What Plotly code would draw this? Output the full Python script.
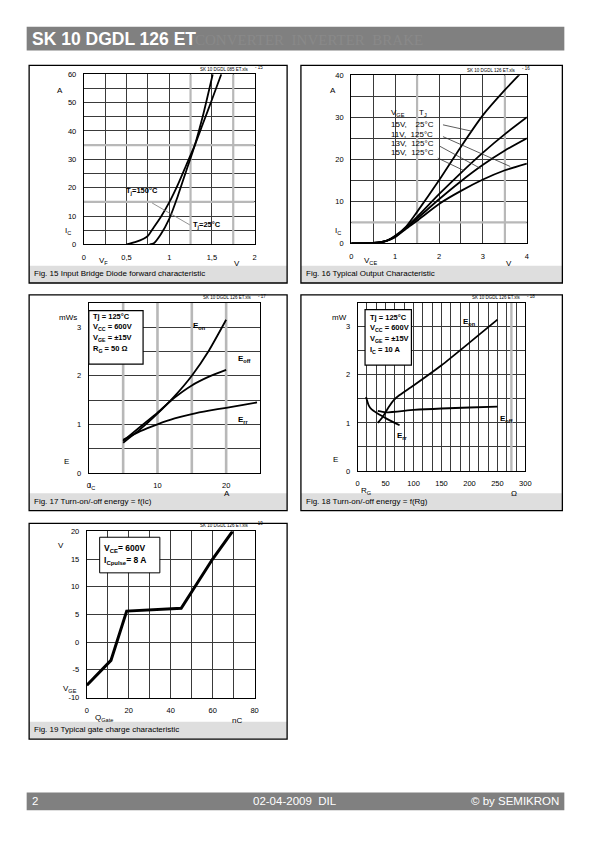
import plotly.graph_objects as go

W, H = 595, 842
FONT = "Liberation Sans, Arial, sans-serif"

# ---------------- data ----------------
# Fig. 15 input bridge diode forward characteristic
f15_vf_150 = [0.5, 0.6, 0.7, 0.75, 0.8, 0.9, 1.0, 1.1, 1.2, 1.3, 1.4, 1.5, 1.61]
f15_if_150 = [0, 0.8, 2.0, 3.0, 5.2, 9.6, 14.8, 21, 28, 35, 43, 51, 60]
f15_vf_25 = [0.77, 0.82, 0.9, 1.0, 1.1, 1.2, 1.3, 1.4, 1.51]
f15_if_25 = [0, 0.4, 3.5, 9, 17, 26, 35, 46, 60]

# Fig. 16 typical output characteristic
f16_vce = [0, 0.5, 0.8, 1.0, 1.25, 1.5, 2.0, 2.5, 3.0, 3.5, 4.0]
f16_15v_25 = [0, 0.1, 0.6, 1.8, 4.0, 7.5, 15.0, 23.0, 30.5, 36.5, 42.0]
f16_15v_125 = [0, 0.1, 0.6, 1.7, 3.8, 6.3, 11.7, 16.8, 21.6, 26.0, 30.0]
f16_13v_125 = [0, 0.1, 0.6, 1.6, 3.7, 5.9, 10.5, 14.8, 18.7, 22.1, 25.0]
f16_11v_125 = [0, 0.1, 0.6, 1.5, 3.5, 5.4, 9.4, 12.5, 15.2, 17.4, 19.0]

# Fig. 17 switching energy vs Ic
f17_ic = [5, 7.5, 10, 12.5, 15, 17.5, 20]
f17_eon = [0.62, 0.9, 1.22, 1.58, 2.0, 2.52, 3.15]
f17_eoff = [0.66, 0.95, 1.24, 1.55, 1.8, 1.98, 2.12]
f17_ic_rr = [5, 7.5, 10, 12.5, 15, 17.5, 20, 22.5, 24.5]
f17_err = [0.68, 0.86, 1.0, 1.12, 1.21, 1.28, 1.34, 1.4, 1.45]

# Fig. 18 switching energy vs Rg
f18_rg_on = [36, 45, 55, 65, 75, 100, 150, 200, 250]
f18_eon = [1.0, 1.13, 1.32, 1.48, 1.58, 1.78, 2.2, 2.67, 3.15]
f18_rg_off = [36, 50, 100, 150, 200, 250]
f18_eoff = [1.25, 1.22, 1.27, 1.3, 1.32, 1.34]
f18_rg_rr = [15, 20, 25, 35, 50, 75]
f18_err = [1.54, 1.36, 1.28, 1.2, 1.1, 0.95]

# Fig. 19 gate charge characteristic
f19_qg = [0, 11.5, 19, 45, 60, 69.5]
f19_vge = [-7.8, -3.3, 5.6, 6.1, 15, 20]


def X(px):
    return px / W


def Y(py):
    return 1 - py / H


fig = go.Figure()

GRID = "#3a3a3a"


def axis(domain_px, anchor, rng, vertical=False, **kw):
    if vertical:
        dom = [Y(domain_px[1]), Y(domain_px[0])]
    else:
        dom = [X(domain_px[0]), X(domain_px[1])]
    d = dict(domain=dom, anchor=anchor, range=rng, showline=True, mirror=True,
             linecolor="black", linewidth=1.2, showgrid=True, gridcolor=GRID,
             gridwidth=1, zeroline=False, ticks="outside", ticklen=5,
             tickcolor="rgba(0,0,0,0)",
             tickfont=dict(size=7.5, family=FONT, color="black"), fixedrange=True)
    d.update(kw)
    return d


def minor(dt):
    return dict(tickmode="linear", tick0=0, dtick=dt, showgrid=True,
                gridcolor=GRID, gridwidth=1, ticks="")


# panel plot areas in pixels: (x0, x1, y0, y1)
P1 = (83, 256, 71, 243)
P2 = (354, 532, 72, 242)
P3 = (88, 262, 302, 474)
P4 = (360.5, 530.5, 302, 472)
P5 = (86, 256, 533, 701)

lay = {}
lay["xaxis"] = axis((P1[0], P1[1]), "y", [0, 2], tickvals=[0, 0.5, 1, 1.5, 2],
                    ticktext=["0", "0,5", "1", "1,5", "2"], minor=minor(0.25))
lay["yaxis"] = axis((P1[2], P1[3]), "x", [0, 60], vertical=True, tick0=0, dtick=10,
                    minor=minor(5))
lay["xaxis2"] = axis((P2[0], P2[1]), "y2", [0, 4], tick0=0, dtick=1, minor=minor(0.5))
lay["yaxis2"] = axis((P2[2], P2[3]), "x2", [0, 40], vertical=True, tick0=0, dtick=10,
                     minor=minor(5))
lay["xaxis3"] = axis((P3[0], P3[1]), "y3", [0, 25], tickvals=[0, 10, 20], minor=minor(5))
lay["yaxis3"] = axis((P3[2], P3[3]), "x3", [0, 3.5], vertical=True, tickvals=[0, 1, 2, 3],
                     minor=minor(0.5))
lay["xaxis4"] = axis((P4[0], P4[1]), "y4", [0, 300], tick0=0, dtick=50,
                     minor=minor(50 / 3))
lay["yaxis4"] = axis((P4[2], P4[3]), "x4", [0, 3.5], vertical=True, tickvals=[0, 1, 2, 3],
                     minor=minor(0.5))
lay["xaxis5"] = axis((P5[0], P5[1]), "y5", [0, 80], tick0=0, dtick=20, minor=minor(10))
lay["yaxis5"] = axis((P5[2], P5[3]), "x5", [-10, 20], vertical=True,
                     tickvals=[-10, -5, 0, 5, 10, 15, 20],
                     ticktext=["-10", "-5", "0", "5", "10", "15", "20"])


def curve(x, y, xa, ya, w=1.8, shape="spline"):
    fig.add_trace(go.Scatter(x=x, y=y, xaxis=xa, yaxis=ya, mode="lines",
                             line=dict(color="black", width=w, shape=shape,
                                       smoothing=0.6),
                             showlegend=False, hoverinfo="skip"))


curve(f15_vf_150, f15_if_150, "x", "y")
curve(f15_vf_25, f15_if_25, "x", "y")
for ys in (f16_15v_25, f16_15v_125, f16_13v_125, f16_11v_125):
    curve(f16_vce, ys, "x2", "y2")
curve(f17_ic, f17_eon, "x3", "y3")
curve(f17_ic, f17_eoff, "x3", "y3")
curve(f17_ic_rr, f17_err, "x3", "y3")
curve(f18_rg_on, f18_eon, "x4", "y4")
curve(f18_rg_off, f18_eoff, "x4", "y4")
curve(f18_rg_rr, f18_err, "x4", "y4")
curve(f19_qg, f19_vge, "x5", "y5", w=3, shape="linear")

shapes = []
annots = []


def rect(x0, y0, x1, y1, fill=None, line="black", lw=1.2, layer="above"):
    shapes.append(dict(type="rect", xref="paper", yref="paper", x0=X(x0), x1=X(x1),
                       y0=Y(y1), y1=Y(y0), fillcolor=fill or "rgba(0,0,0,0)",
                       line=dict(color=line, width=lw), layer=layer))


def txt(s, x, y, size=8, xa="left", ya="middle", bold=False, color="black", family=FONT):
    if bold:
        s = "<b>" + s + "</b>"
    annots.append(dict(text=s, x=X(x), y=Y(y), xref="paper", yref="paper",
                       showarrow=False, xanchor=xa, yanchor=ya,
                       font=dict(size=size, family=family, color=color)))


def dtxt(s, x, y, xa_, ya_, size=8, anchor="left", bold=True):
    if bold:
        s = "<b>" + s + "</b>"
    annots.append(dict(text=s, x=x, y=y, xref=xa_, yref=ya_, showarrow=False,
                       xanchor=anchor, yanchor="middle",
                       font=dict(size=size, family=FONT, color="black")))


def dline(x0, y0, x1, y1, xa_, ya_, color="#777", w=0.8, layer="above"):
    shapes.append(dict(type="line", xref=xa_, yref=ya_, x0=x0, y0=y0, x1=x1, y1=y1,
                       line=dict(color=color, width=w), layer=layer))


# lighter, wider grid lines seen in the scanned original
LG = "#b8b8b8"
for xv in (1.25, 1.75):
    dline(xv, 0, xv, 60, "x", "y", color=LG, w=2.2, layer="between")
for yv in (15, 35):
    dline(0, yv, 2, yv, "x", "y", color=LG, w=2.2, layer="between")
for xv in (1.5, 3.5):
    dline(xv, 0, xv, 40, "x2", "y2", color=LG, w=2.2, layer="between")
dline(0, 5, 4, 5, "x2", "y2", color=LG, w=2.2, layer="between")
for xv in (5, 10, 15, 20):
    dline(xv, 0, xv, 3.5, "x3", "y3", color=LG, w=2.6, layer="between")
dline(275, 0, 275, 3.5, "x4", "y4", color=LG, w=2.4, layer="between")

# header / footer
rect(25, 23, 570, 47, fill="#808080", line="#808080", lw=0, layer="below")
txt("SK 10 DGDL 126 ET", 28, 35.5, size=17.5, bold=True, color="white")
txt("CONVERTER  INVERTER  BRAKE", 194, 36, size=15, color="#898989",
    family="Liberation Serif, Times New Roman, serif")
rect(25, 797, 570, 815, fill="#808080", line="#808080", lw=0, layer="below")
txt("2", 28, 806, size=11.5, color="white")
txt("02-04-2009  DIL", 297, 806, size=11.5, color="white", xa="center")
txt("© by SEMIKRON", 567, 806, size=11.5, color="white", xa="right")

# panel frames and caption strips
panels = [
    (27.5, 62, 289, 282, "Fig. 15 Input Bridge Diode forward characteristic"),
    (303, 62, 568, 282, "Fig. 16 Typical Output Characteristic"),
    (27.5, 294, 289, 512, "Fig. 17 Turn-on/-off energy = f(Ic)"),
    (303, 294, 568, 512, "Fig. 18 Turn-on/-off energy = f(Rg)"),
    (27.5, 525, 289, 743, "Fig. 19 Typical gate charge characteristic"),
]
for x0, y0, x1, y1, cap in panels:
    rect(x0, y1 - 17.5, x1, y1, fill="#dedede", line="#dedede", lw=0, layer="below")
    rect(x0, y0, x1, y1, lw=1.3)
    txt(cap, x0 + 3, y1 - 9.5, size=8)

# small source tags
for (px_r, py_, num, name) in [(252, 66, "15", "SK 10 DGDL 085 ET.xls"),
                               (523, 67, "16", "SK 10 DGDL 126 ET.xls"),
                               (255, 297, "17", "SK 10 DGDL 126 ET.xls"),
                               (528, 297, "18", "SK 10 DGDL 126 ET.xls"),
                               (252, 527, "19", "SK 10 DGDL 126 ET.xls")]:
    txt(name, px_r, py_, size=4.5, xa="right")
    txt("- " + num, px_r + 2, py_ - 1.5, size=4.5)

# ---- Fig 15 labels
txt("A", 58.5, 87, size=8, xa="center")
txt("I<sub>C</sub>", 62, 229.5, size=8)
txt("V<sub>F</sub>", 96.5, 259.5, size=8)
txt("V", 238.5, 262, size=8, xa="center")
dtxt("T<sub>j</sub>=150°C", 0.475, 18.7, "x", "y", size=7.5)
dtxt("T<sub>j</sub>=25°C", 1.25, 6.8, "x", "y", size=7.5)
dline(0.8, 14.6, 1.24, 6.9, "x", "y")

# ---- Fig 16 labels
txt("A", 336, 87, size=8, xa="center")
txt("I<sub>C</sub>", 335.5, 229.5, size=8)
txt("V<sub>CE</sub>", 364.5, 260, size=8)
txt("V", 513.5, 262, size=8, xa="center")
dtxt("V<sub>GE</sub>", 0.87, 31.0, "x2", "y2", size=8, bold=False)
dtxt("T<sub>J</sub>", 1.5, 31.0, "x2", "y2", size=8, bold=False)
dtxt("15V,    25°C", 0.87, 28.2, "x2", "y2", size=8, bold=False)
dtxt("11V,  125°C", 0.87, 26.0, "x2", "y2", size=8, bold=False)
dtxt("13V,  125°C", 0.87, 23.8, "x2", "y2", size=8, bold=False)
dtxt("15V,  125°C", 0.87, 21.6, "x2", "y2", size=8, bold=False)
dline(2.09, 28.2, 2.74, 26.7, "x2", "y2", color="#333")
dline(2.09, 25.4, 3.62, 18.3, "x2", "y2", color="#333")
dline(2.02, 23.1, 2.95, 17.8, "x2", "y2", color="#333")
dline(1.97, 20.3, 2.57, 17.3, "x2", "y2", color="#333")

# ---- Fig 17 labels
txt("mWs", 55.5, 317, size=8)
txt("E", 65, 462, size=8, xa="center")
txt("I<sub>C</sub>", 86, 487, size=8)
txt("A", 228.5, 495, size=8, xa="center")
rect(88, 310, 143, 364, fill="white", lw=1.2)
for i, s in enumerate(["Tj = 125°C", "V<sub>CC</sub> = 600V", "V<sub>GE</sub> = ±15V",
                       "R<sub>G</sub> = 50 Ω"]):
    txt(s, 90.5, 315.5 + i * 11, size=7.5, bold=True)
txt("E<sub>on</sub>", 191.5, 325.5, size=8, bold=True)
txt("E<sub>off</sub>", 237.5, 359, size=8, bold=True)
txt("E<sub>rr</sub>", 237.5, 420, size=8, bold=True)

# ---- Fig 18 labels
txt("mW", 332, 317, size=8)
txt("E", 338.5, 460.5, size=8, xa="center")
txt("R<sub>G</sub>", 362, 492, size=8)
txt("Ω", 518.5, 495, size=8, xa="center")
rect(368, 309, 415, 365, fill="white", lw=1.2)
for i, s in enumerate(["Tj = 125°C", "V<sub>CC</sub> = 600V", "V<sub>GE</sub> = ±15V",
                       "I<sub>C</sub> = 10 A"]):
    txt(s, 370.5, 317 + i * 11, size=7.5, bold=True)
txt("E<sub>on</sub>", 465.5, 321.5, size=8, bold=True)
txt("E<sub>off</sub>", 503, 419, size=8, bold=True)
txt("E<sub>rr</sub>", 398, 437, size=8, bold=True)

# ---- Fig 19 labels
txt("V", 60, 547, size=8, xa="center")
txt("V<sub>GE</sub>", 59.5, 692, size=8)
txt("Q<sub>Gate</sub>", 92.5, 722, size=8)
txt("nC", 238, 724, size=8, xa="center")
rect(99, 539, 160, 575, fill="white", lw=1.0)
txt("V<sub>CE</sub>= 600V", 101.5, 550, size=8.5, bold=True)
txt("I<sub>Cpulse</sub>= 8 A", 101.5, 562.5, size=8.5, bold=True)

fig.update_layout(width=W, height=H, margin=dict(l=0, r=0, t=0, b=0),
                  paper_bgcolor="white", plot_bgcolor="white",
                  shapes=shapes, annotations=annots, showlegend=False,
                  font=dict(family=FONT), **lay)

fig.write_html("out.html", config={"displayModeBar": False},
               post_script="document.body.style.margin='0';"
                           "document.body.style.overflow='hidden';")
